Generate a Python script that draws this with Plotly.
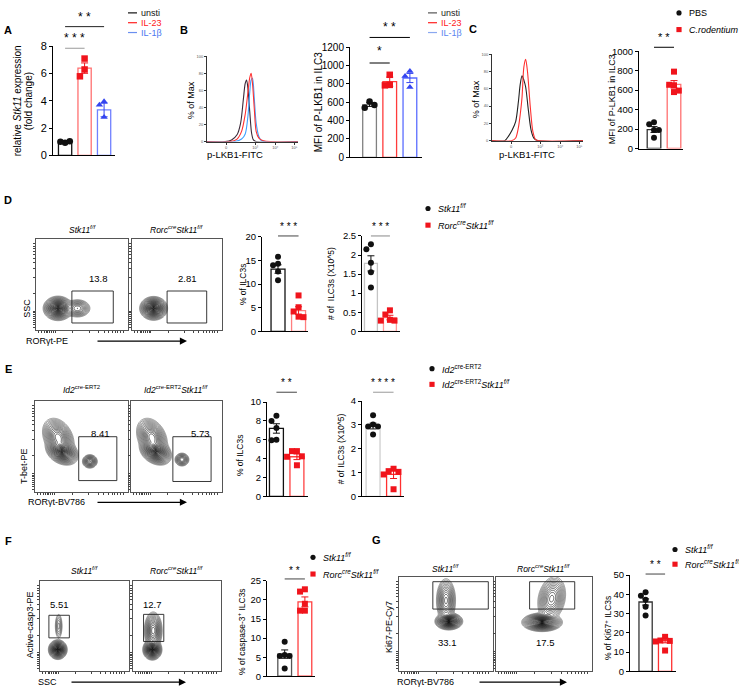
import numpy as np
import plotly.graph_objects as go

W, H = 739, 696
FONT = "Liberation Sans, Arial, Helvetica, sans-serif"

# ====================== DATA ======================
# Panel A : relative Stk11 expression (fold change)
A_groups = ["unsti", "IL-23", "IL-1β"]
A_points = [[0.92, 1.0, 1.04], [7.1, 6.3, 5.8], [3.95, 3.7, 2.8]]
A_mean = [0.98, 6.4, 3.33]
A_sem = [0.04, 0.38, 0.5]

# Panel B : histogram (% of Max) and MFI
B_unsti_x = [0, 20, 27, 33, 37, 40, 42, 43.5, 45, 47, 49, 51, 54, 100]
B_unsti_y = [0, 0, 2, 8, 22, 50, 68, 72, 62, 35, 10, 2, 0, 0]
B_il23_x = [0, 25, 33, 38, 42, 45, 47, 48.5, 50, 52, 54, 57, 62, 100]
B_il23_y = [0, 0, 3, 12, 32, 58, 75, 80, 68, 38, 12, 4, 1, 0]
B_il1b_x = [0, 30, 38, 42, 45, 47, 48.5, 50, 52, 54, 57, 60, 100]
B_il1b_y = [0, 0, 3, 9, 30, 58, 72, 74, 50, 22, 6, 1, 0]
B_points = [[610, 540, 570], [900, 790, 785], [940, 885, 765]]
B_mean = [575, 825, 865]
B_sem = [20, 50, 50]

# Panel C
C_groups = ["PBS", "C.rodentium"]
C_pbs_x = [0, 14, 18, 22, 26, 29, 31, 33, 35, 37, 40, 43, 46, 50, 100]
C_pbs_y = [0, 0, 5, 12, 22, 45, 65, 75, 70, 62, 35, 12, 3, 0, 0]
C_crod_x = [0, 22, 26, 29, 31, 33, 35, 37, 39, 42, 45, 48, 52, 100]
C_crod_y = [0, 0, 3, 15, 30, 50, 85, 94, 80, 40, 10, 1, 0, 0]
C_points = [[270, 250, 190, 190, 110], [790, 650, 655, 580, 595]]
C_mean = [195, 660]
C_sem = [30, 38]

# Panel D
D_pct_points = [[15.8, 14.3, 14.0, 12.7, 10.8], [7.6, 5.1, 4.2, 3.1, 3.0]]
D_pct_mean = [13.2, 4.4]
D_pct_sem = [0.9, 0.8]
D_num_points = [[2.28, 2.15, 1.8, 1.55, 1.15], [0.55, 0.44, 0.3, 0.28, 0.28]]
D_num_mean = [1.78, 0.36]
D_num_sem = [0.2, 0.06]
D_gate_pct = ["13.8", "2.81"]
# flow populations: (centre x, centre y, sd x, sd y, correlation, relative peak)
D1_pops = [(24, 24, 4.6, 3.8, 0.0, 1.0), (45, 24, 4.6, 3.2, 0.0, 0.15)]
D2_pops = [(24, 24, 4.4, 3.7, 0.0, 1.0)]

# Panel E
E_pct_points = [[8.55, 8.0, 7.25, 6.0, 5.95], [4.8, 4.8, 4.25, 4.2, 3.3]]
E_pct_mean = [7.2, 4.2]
E_pct_sem = [0.5, 0.3]
E_num_points = [[3.4, 3.02, 2.93, 2.93, 2.6], [1.16, 1.06, 1.03, 0.92, 0.3]]
E_num_mean = [2.95, 0.92]
E_num_sem = [0.12, 0.17]
E_gate_pct = ["8.41", "5.73"]
E1_pops = [(29, 45, 5.0, 4.3, -0.3, 1.0), (25, 60, 5.2, 6.5, -0.3, 0.4),
           (59, 34, 2.6, 2.4, 0.0, 0.22)]
E2_pops = [(27, 45, 5.0, 4.3, -0.3, 1.0), (23, 60, 5.2, 6.5, -0.3, 0.4),
           (56, 36, 2.6, 2.4, 0.0, 0.15)]

# Panel F
F_points = [[9.05, 5.6, 5.3, 5.3, 2.0], [22.8, 22.2, 19.0, 17.2, 17.2]]
F_mean = [5.8, 19.5]
F_sem = [1.1, 1.3]
F_gate_pct = ["5.51", "12.7"]
F1_pops = [(20, 24, 3.0, 3.1, 0.0, 1.0), (21, 50, 1.6, 5.5, 0.0, 0.03)]
F2_pops = [(22, 24, 3.1, 3.3, 0.0, 1.0), (23, 45, 3.2, 6.5, 0.0, 0.3)]

# Panel G
G_points = [[41.0, 39.2, 37.2, 33.5, 29.0], [17.9, 16.0, 15.8, 15.5, 10.8]]
G_mean = [36.0, 16.0]
G_sem = [1.6, 1.2]
G_gate_pct = ["33.1", "17.5"]
G1_pops = [(53, 53, 4.2, 2.6, 0.0, 1.0), (50, 75, 3.3, 7.5, 0.0, 0.22)]
G2_pops = [(48, 52, 6.0, 2.8, 0.0, 1.0), (58, 77, 4.7, 7.5, 0.2, 0.22)]

# ====================== HELPERS ======================
fig = go.Figure()
layout = dict(width=W, height=H, margin=dict(l=0, r=0, t=0, b=0),
              paper_bgcolor="white", plot_bgcolor="rgba(0,0,0,0)",
              showlegend=False, barmode="overlay",
              font=dict(family=FONT, color="black"))
shapes, annots = [], []
AX = []


def new_axes(box, xr, yr, xkw, ykw):
    i = len(AX) + 1
    sfx = "" if i == 1 else str(i)
    x0, y0, x1, y1 = box
    layout["xaxis" + sfx] = dict(domain=[x0 / W, x1 / W], range=xr, anchor="y" + sfx,
                                 fixedrange=True, **xkw)
    layout["yaxis" + sfx] = dict(domain=[1 - y1 / H, 1 - y0 / H], range=yr, anchor="x" + sfx,
                                 fixedrange=True, **ykw)
    AX.append((box, xr, yr))
    return "x" + sfx, "y" + sfx, i - 1


def to_px(k, xv, yv):
    (x0, y0, x1, y1), xr, yr = AX[k]
    px = x0 + (xv - xr[0]) / (xr[1] - xr[0]) * (x1 - x0)
    py = y1 - (yv - yr[0]) / (yr[1] - yr[0]) * (y1 - y0)
    return px, py


def text(x, y, s, size=9, color="black", angle=0, xanchor="center", yanchor="middle"):
    annots.append(dict(x=x / W, y=1 - y / H, xref="paper", yref="paper", text=s,
                       showarrow=False, textangle=angle, xanchor=xanchor, yanchor=yanchor,
                       font=dict(size=size, color=color, family=FONT)))


def hline(x0, x1, y, color="black", width=1):
    shapes.append(dict(type="line", xref="paper", yref="paper", x0=x0 / W, x1=x1 / W,
                       y0=1 - y / H, y1=1 - y / H, line=dict(color=color, width=width)))


def arrow(x0, x1, y):
    annots.append(dict(x=x1 / W, y=1 - y / H, xref="paper", yref="paper", ax=x0 - x1, ay=0,
                       axref="pixel", ayref="pixel", showarrow=True, arrowhead=2,
                       arrowsize=1.1, arrowwidth=1.3, arrowcolor="black", text=""))


def legend_line(x, y, label, lcolor, tcolor, size=9):
    hline(x, x + 9, y, lcolor, 1.2)
    text(x + 11, y, label, size=size, color=tcolor, xanchor="left")


def legend_mark(x, y, kind, color, label, size=9):
    r = 2.6
    shapes.append(dict(type="circle" if kind == "circle" else "rect", xref="paper", yref="paper",
                       x0=(x - r) / W, x1=(x + r) / W, y0=1 - (y + r) / H, y1=1 - (y - r) / H,
                       fillcolor=color, line=dict(width=0)))
    text(x + 8, y, label, size=size, xanchor="left")


def sig(k, c0, c1, y_line, y_text, label, color="black", size=11):
    p0, _ = to_px(k, c0, 0)
    p1, _ = to_px(k, c1, 0)
    hline(p0, p1, y_line, color, 1)
    text((p0 + p1) / 2, y_text, label, size=size)


def dodge(vals, span, step=0.24):
    placed, offs = [], []
    for v in vals:
        for o in (0.0, -step, step, -2 * step, 2 * step):
            if all(abs(v - pv) > 0.065 * span or po != o for pv, po in placed):
                break
        placed.append((v, o))
        offs.append(o)
    return offs


BAR_X = dict(showline=True, linecolor="black", linewidth=1, ticks="", showticklabels=False,
             showgrid=False, zeroline=False)


def bar_panel(box, xr, yr, dtick, pts, means, sems, bar_cols, pt_cols, symbols, tick_size=9.5,
              msize=6):
    ykw = dict(showline=True, linecolor="black", linewidth=1, ticks="outside", ticklen=3,
               tickwidth=1, tickcolor="black", tick0=0, dtick=dtick, showgrid=False,
               zeroline=False, tickfont=dict(size=tick_size, family=FONT))
    xa, ya, k = new_axes(box, xr, yr, BAR_X, ykw)
    for i, (p, m, s) in enumerate(zip(pts, means, sems)):
        fig.add_trace(go.Bar(x=[i], y=[m], width=0.68, xaxis=xa, yaxis=ya, hoverinfo="skip",
                             marker=dict(color="white", line=dict(color=bar_cols[i], width=1.3))))
        offs = dodge(p, yr[1] - yr[0])
        fig.add_trace(go.Scatter(x=[i + o for o in offs], y=p, mode="markers", xaxis=xa, yaxis=ya,
                                 cliponaxis=False,
                                 marker=dict(symbol=symbols[i], color=pt_cols[i], size=msize,
                                             line=dict(width=0))))
        fig.add_trace(go.Scatter(x=[i], y=[m], mode="lines", xaxis=xa, yaxis=ya, cliponaxis=False,
                                 error_y=dict(type="data", array=[s], color=pt_cols[i],
                                              thickness=1, width=3.5)))
    return k


def hist_panel(box, curves):
    hx = dict(showline=True, linecolor="#333", linewidth=0.8, ticks="outside", ticklen=2,
              tickwidth=0.7, tickcolor="#333", tickmode="array", tickvals=[21, 53, 75, 96],
              ticktext=["0", "10³", "10⁴", "10⁵"], tickfont=dict(size=4, color="#555"),
              showgrid=False, zeroline=False)
    hy = dict(showline=True, linecolor="#333", linewidth=0.8, ticks="outside", ticklen=2,
              tickwidth=0.7, tickcolor="#333", tickmode="array",
              tickvals=[0, 20, 40, 60, 80, 100], tickfont=dict(size=4, color="#555"),
              showgrid=False, zeroline=False)
    xa, ya, k = new_axes(box, [0, 100], [0, 100], hx, hy)
    for xs, ys, col in curves:
        fig.add_trace(go.Scatter(x=xs, y=ys, mode="lines", xaxis=xa, yaxis=ya,
                                 line=dict(color=col, width=1.1, shape="spline", smoothing=0.8)))
    return k


GRID = np.linspace(0, 100, 181)
FLOW_TICKS = [3, 6, 9, 11, 13, 15, 17, 19, 21, 40, 58, 68, 74, 79, 83, 86, 89, 92, 95]
FLOW_AX = dict(showline=True, mirror=True, linecolor="#555", linewidth=0.8, ticks="outside",
               ticklen=2, tickwidth=0.8, tickcolor="#444", tickmode="array", tickvals=FLOW_TICKS,
               showticklabels=False, showgrid=False, zeroline=False)
T_START, T_END, T_STEP = 0.12, 2.2, 0.085


def flow_panel(box, pops, gate, num, num_xy, title, title_y):
    xa, ya, k = new_axes(box, [0, 100], [0, 100], FLOW_AX, FLOW_AX)
    X, Y = np.meshgrid(GRID, GRID)
    d = np.zeros_like(X)
    for cx, cy, sx, sy, rho, w in pops:
        dx, dy = (X - cx) / sx, (Y - cy) / sy
        q = (dx * dx - 2 * rho * dx * dy + dy * dy) / (1 - rho * rho)
        d += w * np.exp(-0.5 * q)
    d /= d.max()
    t = (-np.log(np.maximum(d, 1e-12))) ** 0.42
    fig.add_trace(go.Contour(x=GRID, y=GRID, z=t, xaxis=xa, yaxis=ya, autocontour=False,
                             contours=dict(start=T_START, end=T_END, size=T_STEP, coloring="lines"),
                             colorscale=[[0, "#000000"], [0.6, "#222222"], [1, "#6a6a6a"]],
                             zmin=T_START, zmax=T_END, zauto=False,
                             line=dict(width=0.7), showscale=False, hoverinfo="skip"))
    gx0, gx1, gy0, gy1 = gate
    shapes.append(dict(type="rect", xref=xa, yref=ya, x0=gx0, x1=gx1, y0=gy0, y1=gy1,
                       line=dict(color="#222", width=0.9)))
    annots.append(dict(x=num_xy[0], y=num_xy[1], xref=xa, yref=ya, text=num, showarrow=False,
                       font=dict(size=9.5, family=FONT)))
    x0, y0, x1, y1 = box
    text((x0 + x1) / 2, title_y, title, size=8.5)
    return k


STK = "<i>Stk11</i><sup><i>f/f</i></sup>"
RORC_STK = "<i>Rorc</i><sup><i>cre</i></sup><i>Stk11</i><sup><i>f/f</i></sup>"
ID2 = "<i>Id2</i><sup>cre-ERT2</sup>"
ID2_STK = "<i>Id2</i><sup>cre-ERT2</sup><i>Stk11</i><sup><i>f/f</i></sup>"

BLACK, RED, BLUE = "#111111", "#f0141c", "#3445f0"

# ====================== PANEL A ======================
text(8, 24, "<b>A</b>", size=11)
kA = bar_panel((53, 41, 115, 152), [-0.62, 2.56], [0, 8], 2, A_points, A_mean, A_sem,
               ["#111", "#ff7070", "#7080ff"], [BLACK, RED, BLUE],
               ["circle", "square", "triangle-up"], tick_size=11, msize=6.5)
text(17, 97, "relative <i>Stk11</i> expression", size=10, angle=-90)
text(28, 97, "(fold change)", size=10, angle=-90)
sig(kA, 0, 1, 43, 33, "* * *", color="#9a9a9a", size=12)
sig(kA, 0, 2, 21, 11, "* *", color="#222", size=12)
legend_line(128, 7, A_groups[0], "#111", "#111")
legend_line(128, 17, A_groups[1], "#ff2020", "#ff2020")
legend_line(128, 27, A_groups[2], "#6a8ff0", "#4a78f0")

# ====================== PANEL B ======================
text(184, 24, "<b>B</b>", size=11)
hist_panel((207, 51, 298, 138), [(B_unsti_x, B_unsti_y, "#3a2838"),
                                 (B_il1b_x, B_il1b_y, "#3fa0ff"),
                                 (B_il23_x, B_il23_y, "#ff3030")])
text(191, 96, "% of Max", size=9, angle=-90)
text(235, 151, "p-LKB1-FITC", size=9.5)
kB = bar_panel((350, 42, 422, 154), [-0.97, 2.6], [0, 1200], 200, B_points, B_mean, B_sem,
               ["#808080", "#ff3b3b", "#5a6cff"], [BLACK, RED, BLUE],
               ["circle", "square", "triangle-up"], tick_size=10, msize=6.5)
text(318, 98, "MFI of P-LKB1 in ILC3", size=10, angle=-90)
sig(kB, 0, 1, 58, 46, "*", size=12)
sig(kB, 0, 2, 32, 21, "* *", size=12)
legend_line(428, 7, A_groups[0], "#555", "#222")
legend_line(428, 17, A_groups[1], "#ff2020", "#ff2020")
legend_line(428, 27, A_groups[2], "#8aa8f0", "#5a86f0")

# ====================== PANEL C ======================
text(473, 23, "<b>C</b>", size=11)
hist_panel((492, 49, 583, 137), [(C_pbs_x, C_pbs_y, "#222222"), (C_crod_x, C_crod_y, "#ff3030")])
text(476, 95, "% of Max", size=9, angle=-90)
text(527, 151, "p-LKB1-FITC", size=9.5)
kC = bar_panel((639, 46, 683, 145), [-0.75, 1.45], [0, 1000], 200, C_points, C_mean, C_sem,
               ["#333", "#ff7070"], [BLACK, RED], ["circle", "square"], tick_size=9.5)
text(612, 95, "MFI of P-LKB1 in ILC3", size=9, angle=-90)
sig(kC, 0, 1, 42, 32, "* *", size=11)
legend_mark(679, 7, "circle", BLACK, C_groups[0])
legend_mark(679, 24, "rect", RED, "<i>" + C_groups[1] + "</i>")

# ====================== PANEL D ======================
text(8, 197, "<b>D</b>", size=11)
flow_panel((36, 237, 128, 330), D1_pops, (39, 84, 8, 43), D_gate_pct[0], (68, 57), STK, 227)
flow_panel((132, 237, 222, 330), D2_pops, (39, 83, 8, 43), D_gate_pct[1], (62, 57), RORC_STK, 227)
text(27, 308, "SSC", size=9, angle=-90)
text(47, 341, "RORγt-PE", size=9)
arrow(96, 187, 341)
kD1 = bar_panel((262, 235, 308, 331), [-0.78, 1.46], [0, 20], 5, D_pct_points, D_pct_mean,
                D_pct_sem, ["#111", "#ff7f7f"], [BLACK, RED], ["circle", "square"])
text(243, 283, "% of ILC3s", size=8.5, angle=-90)
sig(kD1, 0, 1, 234, 224, "* * *", color="#444", size=10)
kD2 = bar_panel((362, 234, 400, 331), [-0.47, 1.53], [0, 2.5], 0.5, D_num_points, D_num_mean,
                D_num_sem, ["#c4c4c4", "#ff9a9a"], [BLACK, RED], ["circle", "square"])
text(331, 283, "# of  ILC3s (X10^5)", size=8.5, angle=-90)
sig(kD2, 0, 1, 234, 224, "* * *", color="#888", size=10)
legend_mark(428, 206, "circle", BLACK, STK)
legend_mark(428, 223, "rect", RED, RORC_STK)

# ====================== PANEL E ======================
text(8, 369, "<b>E</b>", size=11)
flow_panel((35, 402, 128, 495), E1_pops, (47, 88, 13, 61), E_gate_pct[0], (70, 65), ID2, 390)
flow_panel((131, 402, 222, 495), E2_pops, (46, 88, 12, 61), E_gate_pct[1], (76, 65), ID2_STK, 390)
text(24, 468, "T-bet-PE", size=9, angle=-90)
text(56, 505, "RORγt-BV786", size=9)
arrow(96, 187, 505)
kE1 = bar_panel((267, 403, 308, 499), [-0.46, 1.54], [0, 10], 2, E_pct_points, E_pct_mean,
                E_pct_sem, ["#111", "#ff4040"], [BLACK, RED], ["circle", "square"])
text(240, 457, "% of ILC3s", size=8.5, angle=-90)
sig(kE1, 0, 1, 393, 383, "* *", color="#444", size=10)
kE2 = bar_panel((362, 402, 404, 499), [-0.54, 1.51], [0, 4], 1, E_num_points, E_num_mean,
                E_num_sem, ["#cfcfcf", "#ff3030"], [BLACK, RED], ["circle", "square"])
text(341, 451, "# of ILC3s (X10^5)", size=8.5, angle=-90)
sig(kE2, 0, 1, 393, 383, "* * * *", color="#999", size=10)
legend_mark(432, 369, "circle", BLACK, ID2)
legend_mark(432, 385, "rect", RED, ID2_STK)

# ====================== PANEL F ======================
text(8, 544, "<b>F</b>", size=11)
flow_panel((40, 585, 129, 677), F1_pops, (10, 33, 37, 62), F_gate_pct[0], (22, 74), STK, 574)
flow_panel((133, 585, 221, 677), F2_pops, (12, 35, 33, 63), F_gate_pct[1], (22, 74), RORC_STK, 574)
text(30, 630, "Active-casp3-PE", size=9, angle=-90)
text(47, 688, "SSC", size=9)
arrow(70, 186, 688)
kF = bar_panel((267, 585, 315, 682), [-0.875, 1.5], [0, 25], 5, F_points, F_mean, F_sem,
               ["#555", "#ff4040"], [BLACK, RED], ["circle", "square"])
text(241, 637, "% of caspase-3<sup>+</sup> ILC3s", size=8.5, angle=-90)
sig(kF, 0, 1, 583, 574, "* *", color="#444", size=10)
legend_mark(313, 561, "circle", BLACK, STK)
legend_mark(313, 578, "rect", RED, RORC_STK)

# ====================== PANEL G ======================
text(376, 543, "<b>G</b>", size=11)
flow_panel((399, 581, 493, 677), G1_pops, (36, 95, 66, 95), G_gate_pct[0], (52, 31), STK, 572)
flow_panel((496, 581, 592, 677), G2_pops, (35, 82, 66, 95), G_gate_pct[1], (52, 31), RORC_STK, 572)
text(389, 632, "Ki67-PE-Cy7", size=9, angle=-90)
text(425, 688, "RORγt-BV786", size=9)
arrow(478, 567, 688)
kG = bar_panel((630, 579, 676, 677), [-0.8, 1.56], [0, 50], 10, G_points, G_mean, G_sem,
               ["#333", "#ff3030"], [BLACK, RED], ["circle", "square"])
text(608, 633, "% of Ki67<sup>+</sup> ILC3s", size=8.5, angle=-90)
sig(kG, 0, 1, 578, 568, "* *", color="#444", size=10)
legend_mark(675, 553, "circle", BLACK, STK)
legend_mark(675, 568, "rect", RED, RORC_STK)

layout["shapes"] = shapes
layout["annotations"] = annots
fig.update_layout(**layout)
fig.write_html("out.html", config={"displayModeBar": False})
